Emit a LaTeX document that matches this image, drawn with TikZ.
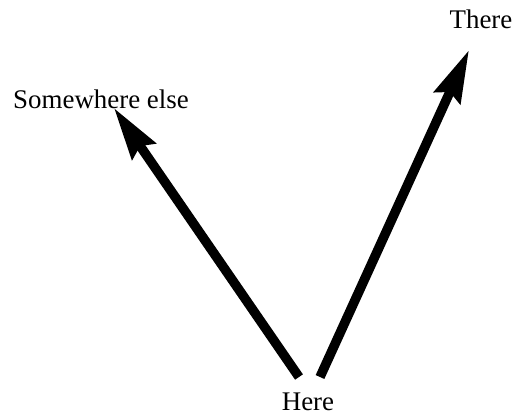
\documentclass[tikz,border=0pt]{standalone}
\usepackage{fontspec}
\setmainfont{Liberation Serif}
\usetikzlibrary{arrows.meta}
\begin{document}
\begin{tikzpicture}[x=1bp,y=-1bp,
  lbl/.style={inner sep=0pt,font=\fontsize{27}{32}\selectfont},
  bigarrow/.style={line width=9.5bp,line cap=butt,-{Stealth[length=52bp,width=28bp,inset=6bp]}}]
\fill[white] (0,0) rectangle (520,417);
\useasboundingbox (0,0) rectangle (520,417);
\node[lbl,anchor=base] (here) at (308,410) {Here};
\node[lbl,anchor=base] (else) at (101,108) {Somewhere else};
\node[lbl,anchor=base] (there) at (481,28) {There};
\coordinate (s1) at (299,377);
\coordinate (s2) at (320,377);
\coordinate (t1) at (114,108);
\coordinate (t2) at (469,50);
\draw[bigarrow] (s1) -- (t1);
\draw[bigarrow] (s2) -- (t2);
\end{tikzpicture}
\end{document}
